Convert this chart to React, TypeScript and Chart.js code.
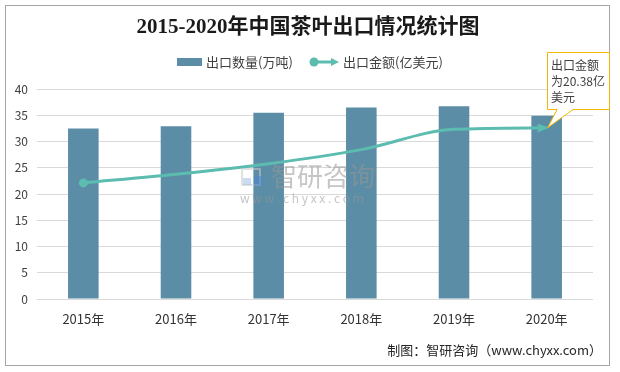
import React, { useEffect, useRef } from "react";
import { Chart, registerables } from "chart.js";

Chart.register(...registerables);

const categories = ["2015年", "2016年", "2017年", "2018年", "2019年", "2020年"];
const exportVolume = [32.5, 32.9, 35.5, 36.5, 36.7, 34.9];
const exportValue = [13.82, 14.85, 16.1, 17.78, 20.2, 20.38];
const volumeAxis = { min: 0, max: 40, step: 5 };
const valueAxis = { min: 0, max: 25 };
const titleText = "2015-2020年中国茶叶出口情况统计图";
const legendLabels = ["出口数量(万吨)", "出口金额(亿美元)"];
const calloutLines = ["出口金额", "为20.38亿", "美元"];
const footerText = "制图：智研咨询（www.chyxx.com）";
const watermarkMain = "智研咨询";
const watermarkSub = "w w w . c h y x x . c o m";

const BAR_COLOR = "#5b8ea6";
const LINE_COLOR = "#5cbcb0";
const SANS = "'Noto Sans CJK SC', 'Noto Sans', sans-serif";
const SERIF = "'Liberation Serif', 'DejaVu Serif', 'Noto Sans CJK SC', serif";

function drawArrow(ctx: CanvasRenderingContext2D, x: number, y: number, ang: number, len: number, w: number) {
  ctx.save();
  ctx.translate(x, y);
  ctx.rotate(ang);
  ctx.beginPath();
  ctx.moveTo(0, 0);
  ctx.lineTo(-len, -w / 2);
  ctx.lineTo(-len, w / 2);
  ctx.closePath();
  ctx.fill();
  ctx.restore();
}

const decorPlugin = {
  id: "decor",
  afterDatasetsDraw(chart: any) {
    const ctx = chart.ctx as CanvasRenderingContext2D;
    const meta = chart.getDatasetMeta(1);
    const pts = meta.data;
    const last = pts[pts.length - 1];
    const prev = pts[pts.length - 2];
    let cx = last.cp1x, cy = last.cp1y;
    if (cx === undefined || (Math.abs(cx - last.x) < 0.5 && Math.abs(cy - last.y) < 0.5)) {
      cx = prev.x; cy = prev.y;
    }
    const ang = Math.atan2(last.y - cy, last.x - cx);
    ctx.save();
    ctx.fillStyle = LINE_COLOR;
    drawArrow(ctx, last.x + 2, last.y, ang, 11, 9);
    ctx.restore();

    // watermark (drawn over the bars, semi-transparent)
    ctx.save();
    ctx.globalAlpha = 0.55;
    ctx.strokeStyle = "#c8c8c8";
    ctx.lineWidth = 2;
    ctx.strokeRect(242, 169, 18, 16);
    ctx.fillStyle = "#9fc0e6";
    ctx.fillRect(243, 178, 8, 7);
    ctx.fillStyle = "#4f86cc";
    ctx.fillRect(254, 176, 9, 10);
    ctx.fillStyle = "rgba(150,150,150,1)";
    ctx.font = `26px ${SANS}`;
    ctx.textBaseline = "middle";
    ctx.textAlign = "left";
    ctx.fillText(watermarkMain, 271, 176);
    ctx.font = `12px ${SANS}`;
    ctx.fillText(watermarkSub, 240, 198);
    ctx.restore();
  },
  afterDraw(chart: any) {
    const ctx = chart.ctx as CanvasRenderingContext2D;
    ctx.save();
    // outer border
    ctx.strokeStyle = "#a6a6a6";
    ctx.lineWidth = 1;
    ctx.strokeRect(5.5, 5.5, 604, 360);

    // title
    ctx.fillStyle = "#1a1a1a";
    ctx.font = `bold 21px ${SERIF}`;
    ctx.textAlign = "center";
    ctx.textBaseline = "middle";
    ctx.fillText(titleText, 308, 28);

    // legend
    ctx.font = `13px ${SANS}`;
    ctx.textAlign = "left";
    ctx.fillStyle = BAR_COLOR;
    ctx.fillRect(177, 58, 25, 8);
    ctx.fillStyle = "#404040";
    ctx.fillText(legendLabels[0], 206, 62);
    ctx.strokeStyle = LINE_COLOR;
    ctx.fillStyle = LINE_COLOR;
    ctx.lineWidth = 3;
    ctx.beginPath();
    ctx.moveTo(314, 62);
    ctx.lineTo(332, 62);
    ctx.stroke();
    ctx.beginPath();
    ctx.arc(314, 62, 4.5, 0, Math.PI * 2);
    ctx.fill();
    drawArrow(ctx, 339, 62, 0, 8, 8);
    ctx.fillStyle = "#404040";
    ctx.fillText(legendLabels[1], 343, 62);

    // callout
    const meta = chart.getDatasetMeta(1);
    const last = meta.data[meta.data.length - 1];
    const bx = 547.5, by = 52.5, bw = 62, bh = 57;
    ctx.fillStyle = "#ffffff";
    ctx.strokeStyle = "#f2b705";
    ctx.lineWidth = 1;
    ctx.beginPath();
    ctx.moveTo(bx, by);
    ctx.lineTo(bx + bw, by);
    ctx.lineTo(bx + bw, by + bh);
    ctx.lineTo(573, by + bh);
    ctx.lineTo(last.x + 1, last.y);
    ctx.lineTo(557, by + bh);
    ctx.lineTo(bx, by + bh);
    ctx.closePath();
    ctx.fill();
    ctx.stroke();
    ctx.fillStyle = "#404040";
    ctx.font = `12px ${SANS}`;
    ctx.textBaseline = "middle";
    calloutLines.forEach((t, i) => ctx.fillText(t, 551, 65 + i * 16));

    // footer
    ctx.font = `13px ${SANS}`;
    ctx.textAlign = "right";
    ctx.fillStyle = "#262626";
    ctx.fillText(footerText, 602, 350);
    ctx.restore();
  },
};

export default function App() {
  const ref = useRef<HTMLCanvasElement | null>(null);
  useEffect(() => {
    document.body.style.margin = "0";
    const canvas = ref.current!;
    const chart = new Chart(canvas, {
      type: "bar",
      data: {
        labels: categories,
        datasets: [
          {
            type: "bar",
            label: legendLabels[0],
            data: exportVolume,
            backgroundColor: BAR_COLOR,
            borderWidth: 0,
            categoryPercentage: 1,
            barPercentage: 0.33,
            yAxisID: "y",
            order: 2,
          },
          {
            type: "line",
            label: legendLabels[1],
            data: exportValue,
            borderColor: LINE_COLOR,
            backgroundColor: LINE_COLOR,
            borderWidth: 3,
            tension: 0.4,
            cubicInterpolationMode: "monotone",
            pointRadius: [4.5, 0, 0, 0, 0, 0],
            pointBorderWidth: 0,
            pointBackgroundColor: LINE_COLOR,
            yAxisID: "y1",
            order: 1,
          },
        ],
      },
      options: {
        responsive: false,
        animation: false,
        layout: { padding: { left: 0, right: 27, top: 89, bottom: 43 } },
        plugins: { legend: { display: false }, tooltip: { enabled: false }, title: { display: false } },
        scales: {
          x: {
            grid: { display: false, drawTicks: false },
            border: { display: false },
            ticks: { color: "#333333", font: { family: SANS, size: 13 }, padding: 12 },
            afterFit: (s: any) => { s.height = 30; },
          },
          y: {
            min: volumeAxis.min,
            max: volumeAxis.max,
            ticks: { stepSize: volumeAxis.step, color: "#404040", font: { family: SANS, size: 12 }, padding: 9 },
            grid: { color: "#d9d9d9", drawTicks: false, lineWidth: 1 },
            border: { display: false },
            afterFit: (s: any) => { s.width = 37; },
          },
          y1: {
            min: valueAxis.min,
            max: valueAxis.max,
            display: false,
            position: "right",
            grid: { display: false },
          },
        },
      },
      plugins: [decorPlugin],
    } as any);
    return () => chart.destroy();
  }, []);
  return (
    <div style={{ width: 620, height: 372, background: "#fff" }}>
      <canvas ref={ref} width={620} height={372} style={{ display: "block" }} />
    </div>
  );
}
